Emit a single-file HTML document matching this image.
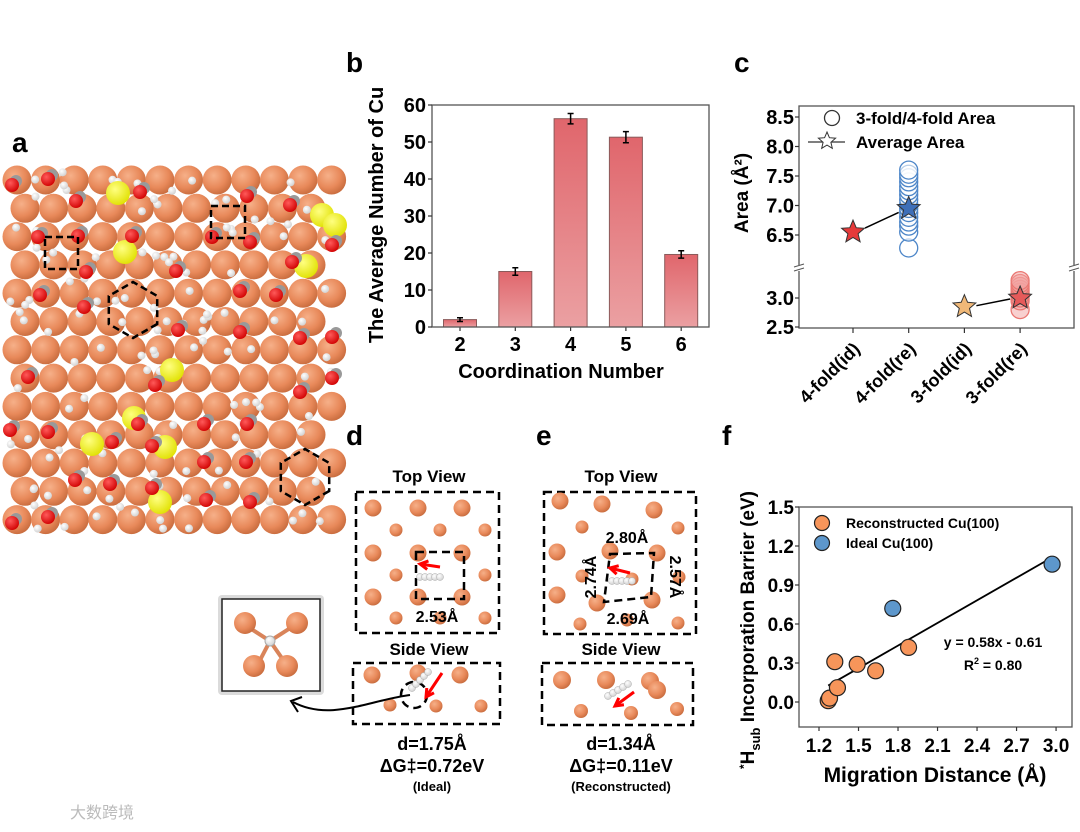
<!DOCTYPE html>
<html><head><meta charset="utf-8">
<style>
html,body{margin:0;padding:0;background:#fff;}
svg{display:block;font-family:"Liberation Sans",Arial,sans-serif;font-weight:bold;}
</style></head>
<body>
<svg id="fig" width="1080" height="832" viewBox="0 0 1080 832" xmlns="http://www.w3.org/2000/svg">
<defs>
<radialGradient id="cu" cx="0.38" cy="0.35" r="0.7"><stop offset="0" stop-color="#f6b089"/><stop offset="0.6" stop-color="#e8895a"/><stop offset="1" stop-color="#c66a3c"/></radialGradient>
<radialGradient id="ox" cx="0.38" cy="0.35" r="0.7"><stop offset="0" stop-color="#ff5a5a"/><stop offset="1" stop-color="#d00000"/></radialGradient>
<radialGradient id="su" cx="0.38" cy="0.35" r="0.7"><stop offset="0" stop-color="#ffff80"/><stop offset="1" stop-color="#e0e000"/></radialGradient>
<radialGradient id="hy" cx="0.38" cy="0.35" r="0.7"><stop offset="0" stop-color="#ffffff"/><stop offset="1" stop-color="#cfcfcf"/></radialGradient>
<linearGradient id="barg" x1="0" y1="0" x2="0" y2="1"><stop offset="0" stop-color="#e0666c"/><stop offset="1" stop-color="#eba0a2"/></linearGradient>
</defs>
<g id="panelA"></g>
<text x="12" y="152" font-size="28">a</text>
<text x="346" y="72" font-size="28">b</text>
<text x="734" y="72" font-size="28">c</text>
<text x="346" y="445" font-size="28">d</text>
<text x="536" y="445" font-size="28">e</text>
<text x="722" y="445" font-size="28">f</text>
<g id="chartB"></g>
<g id="chartC"></g>
<g id="chartF"></g>
<g id="panelDE"></g>
<text x="70" y="818" font-size="16" fill="#bbb" font-weight="normal" font-family="'Liberation Sans','Noto Sans CJK SC',sans-serif">大数跨境</text>
</svg>
<script>
const NS='http://www.w3.org/2000/svg';
function mk(tag,attrs,parent,text){const e=document.createElementNS(NS,tag);for(const k in attrs)e.setAttribute(k,attrs[k]);if(text!==undefined)e.textContent=text;parent.appendChild(e);return e;}

// ---------- Chart b data ----------
const bCategories=['2','3','4','5','6'];
const bValues=[2.0,15.0,56.3,51.3,19.6];
const bErrors=[0.5,1.0,1.4,1.5,1.0];
const bTicks=[0,10,20,30,40,50,60];
// ---------- Chart c data ----------
const cCategories=['4-fold(id)','4-fold(re)','3-fold(id)','3-fold(re)'];
const c4reCircles=[6.28,6.55,6.65,6.72,6.8,6.88,6.95,7.02,7.1,7.18,7.25,7.32,7.4,7.47,7.53,7.6];
const c3reCircles=[2.8,2.95,3.0,3.05,3.1,3.15,3.2,3.25,3.3];
const cStars=[6.55,6.95,2.85,3.0];
const cUpperTicks=[6.5,7.0,7.5,8.0,8.5];
const cLowerTicks=[2.5,3.0];
// ---------- Chart f data ----------
const fReconX=[1.27,1.28,1.32,1.34,1.49,1.63,1.88];
const fReconY=[0.01,0.03,0.31,0.11,0.29,0.24,0.42];
const fIdealX=[1.76,2.97];
const fIdealY=[0.72,1.06];
const fXTicks=[1.2,1.5,1.8,2.1,2.4,2.7,3.0];
const fYTicks=[0.0,0.3,0.6,0.9,1.2,1.5];
const fFit=[0.58,-0.61];
const fFitRange=[1.27,2.95];

// ---------- Panel a (decorative) ----------
(function(){
 const g=document.getElementById('panelA');
 let seed=7;function rnd(){seed=(seed*9301+49297)%233280;return seed/233280;}
 for(let r=0;r<13;r++){for(let c=0;c<12;c++){
  const x=17+c*28.6+(r%2?8:0), y=180+r*28.3;
  if(x>338)continue;
  const s=mk('circle',{cx:x,cy:y,r:14.5,fill:'url(#cu)'},g);
  
  
 }}
 for(let i=0;i<130;i++){
  const x=8+rnd()*332,y=172+rnd()*360;
  const h=mk('circle',{cx:x,cy:y,r:4,fill:'url(#hy)'},g);
  
  
 }
 const yel=[[118,193],[125,252],[322,215],[335,225],[306,266],[172,370],[134,418],[92,444],[165,447],[160,502]];
 yel.forEach(p=>{const e=mk('circle',{cx:p[0],cy:p[1],r:12,fill:'url(#su)'},g);
  
  });
 const red=[[12,185],[48,179],[140,192],[76,201],[247,196],[290,205],[38,237],[78,236],[132,236],[212,237],[250,242],[332,245],[86,272],[176,271],[292,262],[40,295],[84,307],[240,291],[276,295],[178,330],[240,332],[300,338],[332,337],[28,377],[155,385],[300,392],[332,378],[10,430],[48,432],[138,424],[112,442],[204,424],[247,424],[152,446],[204,462],[246,462],[75,480],[110,484],[152,488],[206,500],[250,502],[12,523],[48,517]];
 red.forEach(p=>{mk('circle',{cx:p[0]+4,cy:p[1]-4,r:6,fill:'#999'},g);
  const e=mk('circle',{cx:p[0],cy:p[1],r:7,fill:'url(#ox)'},g);
  
  });
 const d={fill:'none',stroke:'#000','stroke-width':2.5,'stroke-dasharray':'7,4'};
 mk('rect',Object.assign({x:45,y:237,width:33,height:32},d),g);
 mk('rect',Object.assign({x:211,y:206,width:34,height:32},d),g);
 function hex(cx,cy,r){let p=[];for(let i=0;i<6;i++){const a=Math.PI/6+i*Math.PI/3;p.push((cx+r*Math.cos(a)).toFixed(1)+','+(cy+r*Math.sin(a)).toFixed(1));}return p.join(' ');}
 mk('polygon',Object.assign({points:hex(133,310,28)},d),g);
 mk('polygon',Object.assign({points:hex(305,477,28)},d),g);
})();

// ---------- Chart b ----------
(function(){
 const g=document.getElementById('chartB');
 const L=432,R=709,T=105,B=327,ymax=60;
 const y=v=>B-(v/ymax)*(B-T);
 const x=i=>460+i*55.3;
 bValues.forEach((v,i)=>{
  const b=mk('rect',{x:x(i)-16.5,y:y(v),width:33,height:B-y(v),fill:'url(#barg)',stroke:'#8a5a5a','stroke-width':1},g);
  
  
  const e=bErrors[i];
  mk('path',{d:`M${x(i)} ${y(v+e)}V${y(v-e)}M${x(i)-3} ${y(v+e)}h6M${x(i)-3} ${y(v-e)}h6`,stroke:'#000','stroke-width':1.5,fill:'none'},g);
  const t=mk('text',{x:x(i),y:B+24,'font-size':20,'text-anchor':'middle'},g,bCategories[i]);
  
  
  mk('line',{x1:x(i),x2:x(i),y1:B,y2:B+4,stroke:'#333','stroke-width':1.2},g);
 });
 mk('rect',{x:L,y:T,width:R-L,height:B-T,fill:'none',stroke:'#555','stroke-width':1.3},g);
 bTicks.forEach(v=>{
  mk('line',{x1:L-4,x2:L,y1:y(v),y2:y(v),stroke:'#333','stroke-width':1.2},g);
  const t=mk('text',{x:L-6,y:y(v)+7,'font-size':20,'text-anchor':'end'},g,String(v));
  
  
 });
 const yt=mk('text',{x:0,y:0,'font-size':20,'text-anchor':'middle',transform:'translate(383,215) rotate(-90)'},g,'The Average Number of Cu');
 
 const xt=mk('text',{x:561,y:378,'font-size':20,'text-anchor':'middle'},g,'Coordination Number');
 
})();

// ---------- Chart c ----------
(function(){
 const g=document.getElementById('chartC');
 const L=799,R=1074,T=106,B=328,brk=268;
 const yU=v=>117+(8.5-v)*59;
 const yL=v=>298+(3.0-v)*58;
 const yv=v=>v>5?yU(v):yL(v);
 const xc=i=>853+i*55.7;
 mk('rect',{x:L,y:T,width:R-L,height:B-T,fill:'none',stroke:'#555','stroke-width':1.3},g);
 mk('rect',{x:L-6,y:brk-3,width:12,height:6,fill:'#fff'},g);
 mk('rect',{x:R-6,y:brk-3,width:12,height:6,fill:'#fff'},g);
 mk('path',{d:`M${L-5} ${brk-1}l10 -3M${L-5} ${brk+3}l10 -3M${R-5} ${brk-1}l10 -3M${R-5} ${brk+3}l10 -3`,stroke:'#555','stroke-width':1},g);
 cUpperTicks.concat(cLowerTicks).forEach((v,k)=>{
  const yy=k<cUpperTicks.length?yU(v):yL(v);
  mk('line',{x1:L-4,x2:L,y1:yy,y2:yy,stroke:'#333','stroke-width':1.2},g);
  const t=mk('text',{x:L-5,y:yy+7,'font-size':20,'text-anchor':'end'},g,v.toFixed(1));
  
  
 });
 c4reCircles.forEach(v=>{const c=mk('circle',{cx:xc(1),cy:yU(v),r:9,fill:'#fff','fill-opacity':0.6,stroke:'#4d86c8','stroke-width':1.3},g);
  
  });
 c3reCircles.forEach(v=>{const c=mk('circle',{cx:xc(3),cy:yL(v),r:9,fill:'#f1a2a0','fill-opacity':0.5,stroke:'#ea7873','stroke-width':1.3},g);
  
  });
 function star(cx,cy,r){let p=[];for(let i=0;i<10;i++){const a=-Math.PI/2+i*Math.PI/5,rr=i%2?r*0.45:r;p.push((cx+rr*Math.cos(a)).toFixed(1)+','+(cy+rr*Math.sin(a)).toFixed(1));}return p.join(' ');}
 mk('line',{x1:xc(0)+12,y1:yv(cStars[0])-4,x2:xc(1)-10,y2:yv(cStars[1])+4,stroke:'#000','stroke-width':1.5},g);
 mk('line',{x1:xc(2)+12,y1:yv(cStars[2])-1,x2:xc(3)-10,y2:yv(cStars[3])+1,stroke:'#000','stroke-width':1.5},g);
 const sc=['#e63a3a','#3e6fb8','#f0b878','#e65a5a'];
 cStars.forEach((v,i)=>{const s=mk('polygon',{points:star(xc(i),yv(v),12),fill:sc[i],stroke:'#333','stroke-width':1},g);
  
  });
 cCategories.forEach((c,i)=>{
  mk('line',{x1:xc(i),x2:xc(i),y1:B,y2:B+5,stroke:'#333','stroke-width':1.2},g);
  const t=mk('text',{x:0,y:0,'font-size':18,'text-anchor':'end',transform:`translate(${xc(i)+8},${B+22}) rotate(-45)`},g,c);
  
  
 });
 mk('circle',{cx:832,cy:118,r:7.5,fill:'none',stroke:'#333','stroke-width':1.3},g);
 mk('text',{x:856,y:124,'font-size':17},g,'3-fold/4-fold Area');
 mk('line',{x1:808,x2:845,y1:142,y2:142,stroke:'#333','stroke-width':1.3},g);
 mk('polygon',{points:star(827,141,9),fill:'#fff',stroke:'#333','stroke-width':1},g);
 mk('text',{x:856,y:148,'font-size':17},g,'Average Area');
 const yt=mk('text',{x:0,y:0,'font-size':19,'text-anchor':'middle',transform:'translate(748,193) rotate(-90)'},g,'Area (Å²)');
 
})();

// ---------- Chart f ----------
(function(){
 const g=document.getElementById('chartF');
 const L=799,R=1072,T=507,B=727;
 const x=v=>819+(v-1.2)*131.7;
 const y=v=>702-v*130;
 mk('rect',{x:L,y:T,width:R-L,height:B-T,fill:'none',stroke:'#555','stroke-width':1.3},g);
 fXTicks.forEach(v=>{mk('line',{x1:x(v),x2:x(v),y1:B,y2:B+4,stroke:'#333','stroke-width':1.2},g);
  const t=mk('text',{x:x(v),y:B+25,'font-size':19,'text-anchor':'middle'},g,v.toFixed(1));
  
  });
 fYTicks.forEach(v=>{mk('line',{x1:L-4,x2:L,y1:y(v),y2:y(v),stroke:'#333','stroke-width':1.2},g);
  const t=mk('text',{x:L-5,y:y(v)+7,'font-size':19,'text-anchor':'end'},g,v.toFixed(1));
  
  });
 const a=fFit[0],b=fFit[1];
 mk('line',{x1:x(fFitRange[0]),y1:y(a*fFitRange[0]+b),x2:x(fFitRange[1]),y2:y(a*fFitRange[1]+b),stroke:'#000','stroke-width':1.8},g);
 fReconX.forEach((v,i)=>{const c=mk('circle',{cx:x(v),cy:y(fReconY[i]),r:8,fill:'#f7955a',stroke:'#222','stroke-width':1.2},g);
  
  });
 fIdealX.forEach((v,i)=>{const c=mk('circle',{cx:x(v),cy:y(fIdealY[i]),r:8,fill:'#5d97cc',stroke:'#222','stroke-width':1.2},g);
  
  });
 mk('circle',{cx:822,cy:523,r:7.5,fill:'#f7955a',stroke:'#222','stroke-width':1.2},g);
 mk('text',{x:846,y:528,'font-size':14},g,'Reconstructed Cu(100)');
 mk('circle',{cx:822,cy:543,r:7.5,fill:'#5d97cc',stroke:'#222','stroke-width':1.2},g);
 mk('text',{x:846,y:548,'font-size':14},g,'Ideal Cu(100)');
 mk('text',{x:993,y:647,'font-size':14,'text-anchor':'middle'},g,'y = 0.58x - 0.61');
 const r2=mk('text',{x:993,y:670,'font-size':14,'text-anchor':'middle'},g);
 
 r2.innerHTML='R<tspan dy="-6" font-size="9">2</tspan><tspan dy="6"> = 0.80</tspan>';
 const yt=mk('text',{x:0,y:0,'font-size':19,'text-anchor':'middle',transform:'translate(754,630) rotate(-90)'},g);
 
 yt.innerHTML='<tspan dy="-6" font-size="12">*</tspan><tspan dy="6">H</tspan><tspan dy="6" font-size="13">sub</tspan><tspan dy="-6"> Incorporation Barrier (eV)</tspan>';
 mk('text',{x:935,y:782,'font-size':21,'text-anchor':'middle'},g,'Migration Distance (Å)');
})();

// ---------- Panels d, e (structures) ----------
(function(){
 const g=document.getElementById('panelDE');
 const d={fill:'none',stroke:'#000','stroke-width':2.5,'stroke-dasharray':'8,5'};
 function cu(x,y,r){const c=mk('circle',{cx:x,cy:y,r:r||8,fill:'url(#cu)'},g);}
 function hs(x,y,n){for(let i=0;i<n;i++)mk('circle',{cx:x+i*5,cy:y,r:3.5,fill:'url(#hy)',stroke:'#aaa','stroke-width':0.5},g);}
 function arrow(x1,y1,x2,y2){mk('line',{x1:x1,y1:y1,x2:x2,y2:y2,stroke:'#f00','stroke-width':3},g);const a=Math.atan2(y2-y1,x2-x1);
  const p=[[x2,y2],[x2-9*Math.cos(a-0.5),y2-9*Math.sin(a-0.5)],[x2-9*Math.cos(a+0.5),y2-9*Math.sin(a+0.5)]];
  mk('polyline',{points:p[1].join(',')+' '+p[0].join(',')+' '+p[2].join(','),fill:'none',stroke:'#f00','stroke-width':3},g);}
 mk('text',{x:429,y:482,'font-size':17,'text-anchor':'middle'},g,'Top View');
 mk('rect',Object.assign({x:356,y:492,width:143,height:141},d),g);
 [[373,508],[418,508],[462,508],[373,553],[418,553],[462,553],[373,597],[418,597],[462,597]].forEach(p=>cu(p[0],p[1],8.5));
 [[396,530],[440,530],[485,530],[396,575],[485,575],[396,618],[440,618],[485,618]].forEach(p=>cu(p[0],p[1],6.5));
 mk('rect',Object.assign({x:416,y:552,width:48,height:47},d),g);
 hs(420,577,5); arrow(440,567,420,564);
 mk('text',{x:437,y:622,'font-size':16,'text-anchor':'middle'},g,'2.53Å');
 mk('text',{x:429,y:655,'font-size':17,'text-anchor':'middle'},g,'Side View');
 mk('rect',Object.assign({x:353,y:663,width:147,height:61},d),g);
 [[372,675],[418,673],[460,675]].forEach(p=>cu(p[0],p[1],8.5));
 [[390,705],[436,706],[481,706]].forEach(p=>cu(p[0],p[1],6.5));
 mk('circle',Object.assign({cx:414,cy:695,r:13},d),g);
 for(let i=0;i<5;i++)mk('circle',{cx:412+i*4,cy:688-i*4,r:3.5,fill:'url(#hy)',stroke:'#aaa','stroke-width':0.5},g);
 arrow(442,673,426,697);
 mk('text',{x:432,y:750,'font-size':18,'text-anchor':'middle'},g,'d=1.75Å');
 mk('text',{x:432,y:772,'font-size':18,'text-anchor':'middle'},g,'ΔG‡=0.72eV');
 mk('text',{x:432,y:791,'font-size':13,'text-anchor':'middle'},g,'(Ideal)');
 mk('rect',{x:218,y:595,width:106,height:100,fill:'#999',opacity:0.35,rx:4},g);
 mk('rect',{x:222,y:599,width:98,height:92,fill:'#fff',stroke:'#222','stroke-width':1.5},g);
 mk('path',{d:'M245 625L270 641L295 625M258 664L270 641L286 664',stroke:'#d9845a','stroke-width':4,fill:'none'},g);
 cu(245,623,11);cu(297,623,11);cu(254,666,11);cu(287,666,11);
 mk('circle',{cx:270,cy:641,r:5,fill:'url(#hy)',stroke:'#aaa'},g);
 mk('path',{d:'M410 695C370 700 330 722 293 702',stroke:'#000','stroke-width':2,fill:'none'},g);
 mk('polyline',{points:'298,712 291,701 302,697',stroke:'#000','stroke-width':2,fill:'none'},g);
 mk('text',{x:621,y:482,'font-size':17,'text-anchor':'middle'},g,'Top View');
 mk('rect',Object.assign({x:544,y:492,width:152,height:142},d),g);
 [[560,501],[602,504],[654,510],[557,552],[610,551],[657,553],[557,595],[597,603],[652,600]].forEach(p=>cu(p[0],p[1],8.5));
 [[582,527],[678,528],[582,576],[632,579],[679,577],[580,624],[627,620],[678,623]].forEach(p=>cu(p[0],p[1],6.5));
 mk('polygon',Object.assign({points:'610,554 654,553 651,597 604,602'},d),g);
 hs(612,581,5); arrow(630,573,610,568);
 mk('text',{x:627,y:543,'font-size':16,'text-anchor':'middle'},g,'2.80Å');
 mk('text',{x:628,y:624,'font-size':16,'text-anchor':'middle'},g,'2.69Å');
 mk('text',{x:0,y:0,'font-size':16,'text-anchor':'middle',transform:'translate(596,577) rotate(-90)'},g,'2.74Å');
 mk('text',{x:0,y:0,'font-size':16,'text-anchor':'middle',transform:'translate(670,577) rotate(90)'},g,'2.57Å');
 mk('text',{x:621,y:655,'font-size':17,'text-anchor':'middle'},g,'Side View');
 mk('rect',Object.assign({x:542,y:663,width:151,height:62},d),g);
 [[562,680],[606,680],[650,681],[657,690]].forEach(p=>cu(p[0],p[1],9));
 [[581,711],[631,713],[677,709]].forEach(p=>cu(p[0],p[1],7));
 for(let i=0;i<5;i++)mk('circle',{cx:608+i*5,cy:696-i*3,r:3.5,fill:'url(#hy)',stroke:'#aaa','stroke-width':0.5},g);
 arrow(634,692,615,706);
 mk('text',{x:621,y:750,'font-size':18,'text-anchor':'middle'},g,'d=1.34Å');
 mk('text',{x:621,y:772,'font-size':18,'text-anchor':'middle'},g,'ΔG‡=0.11eV');
 mk('text',{x:621,y:791,'font-size':13,'text-anchor':'middle'},g,'(Reconstructed)');
})();
</script>
</body></html>
